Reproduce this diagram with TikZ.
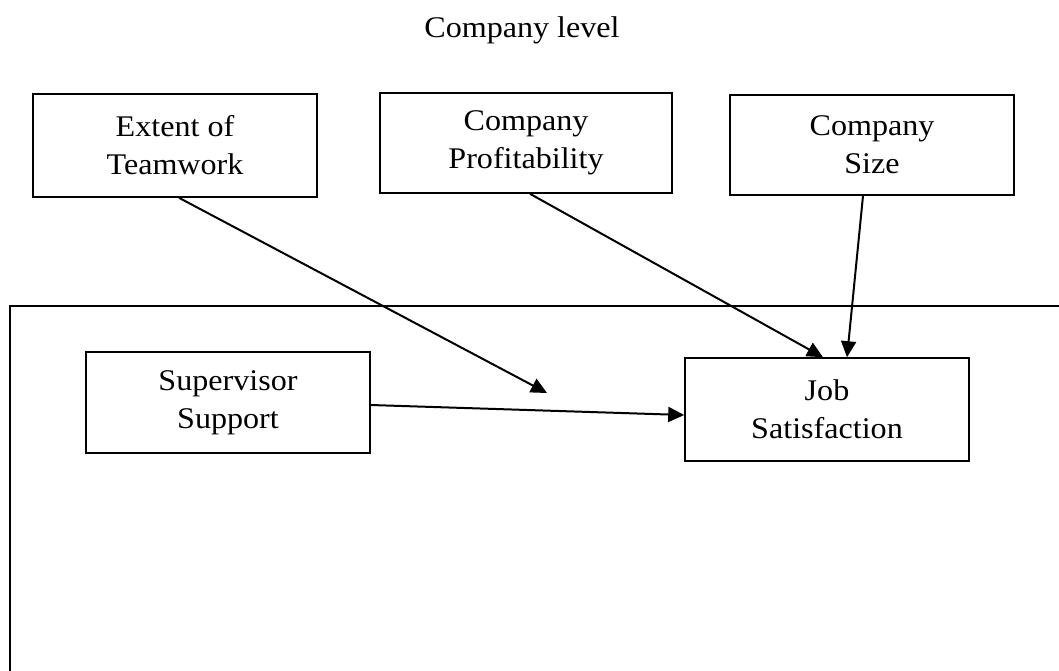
\documentclass[tikz,border=0pt]{standalone}
\usepackage{fontspec}
\setmainfont[FakeStretch=1.07]{Liberation Serif}
\usetikzlibrary{arrows.meta,calc}
\begin{document}
\begin{tikzpicture}[x=1pt,y=-1pt,
  varbox/.style={draw,line width=1.6pt,rectangle,minimum width=284pt,minimum height=101pt,
    align=center,inner sep=0pt,font=\fontsize{30}{38}\selectfont},
  link/.style={line width=2pt,-{Triangle[length=16pt,width=15pt]}},
  frameline/.style={line width=1.5pt}]
  % canvas
  \useasboundingbox (0,0) rectangle (1059,670);
  \fill[white] (0,0) rectangle (1059,670);

  % level heading
  \node[font=\fontsize{30}{38}\selectfont] (lvl) at (522,30) {Company level};

  % company-level variables
  \node[varbox,minimum height=103pt] (team) at (175,145.5) {Extent of\\Teamwork};
  \node[varbox,minimum width=292pt,minimum height=100pt] (prof) at (526,143) {Company\\Profitability};
  \node[varbox,minimum height=100pt] (size) at (872,145) {Company\\Size};

  % individual-level frame (runs off the right and bottom edges)
  \coordinate (fbl) at (10,690);
  \coordinate (ftl) at (10,306);
  \coordinate (ftr) at (1080,306);
  \draw[frameline] (fbl) -- (ftl) -- (ftr);

  % individual-level variables
  \node[varbox] (sup) at (228,402.5) {Supervisor\\Support};
  \node[varbox,minimum height=103pt] (job) at (827,409.5) {Job\\Satisfaction};

  % paths
  \coordinate (mod) at (547,393);
  \draw[link] ($(team.south)+(4,0)$) -- (mod);
  \draw[link] ($(prof.south)+(4,0)$) -- ($(job.north)+(-4,0)$);
  \draw[link] ($(size.south)+(-9,0)$) -- ($(job.north)+(20,0)$);
  \draw[link] ($(sup.east)+(0,2.5)$) -- ($(job.west)+(0,5.5)$);
\end{tikzpicture}
\end{document}
